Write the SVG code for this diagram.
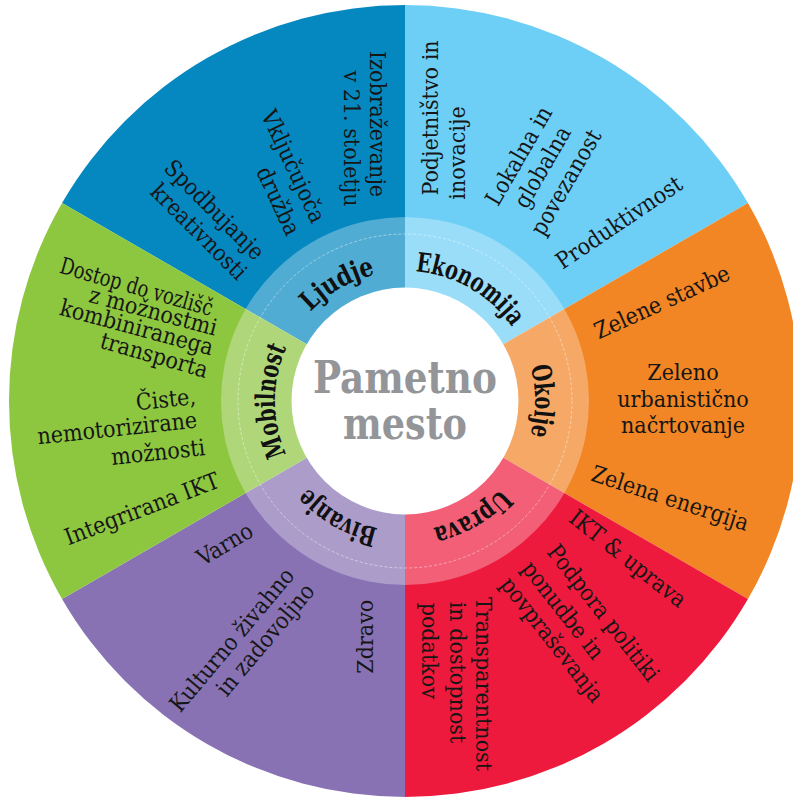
<svg xmlns="http://www.w3.org/2000/svg" xmlns:xlink="http://www.w3.org/1999/xlink" width="793" height="798" viewBox="0 0 793 798">
  <style>
    .t { font-family: "DejaVu Serif Condensed", "DejaVu Serif", serif; font-stretch: condensed; font-size: 23px; fill: #161616; text-anchor: middle; }
    .lab { font-family: "DejaVu Serif Condensed", "DejaVu Serif", serif; font-stretch: condensed; font-weight: bold; font-size: 27px; fill: #111; text-anchor: middle; }
    .hub { font-family: "DejaVu Serif Condensed", "DejaVu Serif", serif; font-stretch: condensed; font-weight: bold; font-size: 44px; fill: #939598; text-anchor: middle; }
  </style>
  <defs>
    <!-- clockwise baseline circle for the category names (starts at 12 o'clock) -->
    <path id="labelArc" d="M405,271 A130,130 0 1,1 405,531 A130,130 0 1,1 405,271"/>
  </defs>

  <!-- six sectors of the wheel -->
  <g id="ljudje">
    <path d="M405,401 L62.05,203 A396,396 0 0,1 405,5 Z" fill="#0588c0"/>
  </g>
  <g id="ekonomija">
    <path d="M405,401 L405,5 A396,396 0 0,1 747.95,203 Z" fill="#6dcff6"/>
  </g>
  <g id="okolje">
    <path d="M405,401 L747.95,203 A396,396 0 0,1 747.95,599 Z" fill="#f28524"/>
  </g>
  <g id="uprava">
    <path d="M405,401 L747.95,599 A396,396 0 0,1 405,797 Z" fill="#ed1a3d"/>
  </g>
  <g id="bivanje">
    <path d="M405,401 L405,797 A396,396 0 0,1 62.05,599 Z" fill="#8872b3"/>
  </g>
  <g id="mobilnost">
    <path d="M405,401 L62.05,599 A396,396 0 0,1 62.05,203 Z" fill="#8dc63f"/>
  </g>

  <!-- inner tinted ring, dashed guide and white hub -->
  <g id="ring">
    <circle cx="405" cy="401" r="184" fill="#fff" fill-opacity="0.3"/>
    <circle cx="405" cy="401" r="167" fill="none" stroke="#fff" stroke-opacity="0.55" stroke-width="0.8" stroke-dasharray="3 2"/>
    <circle cx="405" cy="401" r="113.5" fill="#fff"/>
  </g>

  <g id="hub">
    <text class="hub" x="405" y="393" textLength="184" lengthAdjust="spacingAndGlyphs">Pametno</text>
    <text class="hub" x="405" y="439" textLength="124" lengthAdjust="spacingAndGlyphs">mesto</text>
  </g>

  <!-- category names on the ring -->
  <g id="labels">
    <text class="lab"><textPath xlink:href="#labelArc" href="#labelArc" startOffset="68.07" textLength="115" lengthAdjust="spacingAndGlyphs">Ekonomija</textPath></text>
    <text class="lab"><textPath xlink:href="#labelArc" href="#labelArc" startOffset="204.2" textLength="70" lengthAdjust="spacingAndGlyphs">Okolje</textPath></text>
    <text class="lab"><textPath xlink:href="#labelArc" href="#labelArc" startOffset="340.3" textLength="80" lengthAdjust="spacingAndGlyphs">Uprava</textPath></text>
    <text class="lab"><textPath xlink:href="#labelArc" href="#labelArc" startOffset="476.5" textLength="82" lengthAdjust="spacingAndGlyphs">Bivanje</textPath></text>
    <text class="lab"><textPath xlink:href="#labelArc" href="#labelArc" startOffset="612.6" textLength="110" lengthAdjust="spacingAndGlyphs">Mobilnost</textPath></text>
    <text class="lab"><textPath xlink:href="#labelArc" href="#labelArc" startOffset="748.7" textLength="76" lengthAdjust="spacingAndGlyphs">Ljudje</textPath></text>
  </g>

  <!-- Ljudje items -->
  <g id="ljudje-items">
    <text class="t" transform="translate(376,124) rotate(90)" y="6">Izobraževanje</text>
    <text class="t" transform="translate(349.5,138.5) rotate(90)" y="6">v 21. stoletju</text>
    <text class="t" transform="translate(291.7,167) rotate(65)" y="6">Vključujoča</text>
    <text class="t" transform="translate(276.7,201.7) rotate(65)" y="6">družba</text>
    <text class="t" transform="translate(213,211) rotate(45)" y="6">Spodbujanje</text>
    <text class="t" transform="translate(197.5,233) rotate(45)" y="6">kreativnosti</text>
  </g>

  <!-- Ekonomija items -->
  <g id="ekonomija-items">
    <text class="t" transform="translate(432,118) rotate(-90)" y="6">Podjetništvo in</text>
    <text class="t" transform="translate(459,153) rotate(-90)" y="6">inovacije</text>
    <text class="t" transform="translate(520.3,156.7) rotate(-60)" y="6">Lokalna in</text>
    <text class="t" transform="translate(544,168) rotate(-60)" y="6">globalna</text>
    <text class="t" transform="translate(567.5,183.3) rotate(-60)" y="6">povezanost</text>
    <text class="t" transform="translate(620,224) rotate(-34)" y="6">Produktivnost</text>
  </g>

  <!-- Okolje items -->
  <g id="okolje-items">
    <text class="t" transform="translate(662.8,303.8) rotate(-24.5)" y="6">Zelene stavbe</text>
    <text class="t" x="683" y="380">Zeleno</text>
    <text class="t" x="683" y="406.7">urbanistično</text>
    <text class="t" x="683" y="433">načrtovanje</text>
    <text class="t" transform="translate(669.5,500) rotate(18)" y="6">Zelena energija</text>
  </g>

  <!-- Uprava items -->
  <g id="uprava-items">
    <text class="t" transform="translate(626.7,560) rotate(38.4)" y="6">IKT &amp; uprava</text>
    <text class="t" transform="translate(602,614) rotate(52)" y="6">Podpora politiki</text>
    <text class="t" transform="translate(561.7,611.3) rotate(52)" y="6">ponudbe in</text>
    <text class="t" transform="translate(550.8,640.8) rotate(52)" y="6">povpraševanja</text>
    <text class="t" transform="translate(482.3,684) rotate(90)" y="6">Transparentnost</text>
    <text class="t" transform="translate(455.7,672.5) rotate(90)" y="6">in dostopnost</text>
    <text class="t" transform="translate(428,650.8) rotate(90)" y="6">podatkov</text>
  </g>

  <!-- Bivanje items -->
  <g id="bivanje-items">
    <text class="t" transform="translate(225.8,545.8) rotate(-31)" y="6">Varno</text>
    <text class="t" transform="translate(233.3,641) rotate(-50)" y="6">Kulturno živahno</text>
    <text class="t" transform="translate(266.7,640.8) rotate(-50)" y="6">in zadovoljno</text>
    <text class="t" transform="translate(366.7,636.7) rotate(-90)" y="6">Zdravo</text>
  </g>

  <!-- Mobilnost items -->
  <g id="mobilnost-items">
    <text class="t" transform="translate(136,288.5) rotate(16)" y="6" textLength="158" lengthAdjust="spacingAndGlyphs">Dostop do vozlišč</text>
    <text class="t" transform="translate(152.8,313) rotate(15)" y="6">z možnostmi</text>
    <text class="t" transform="translate(136.2,329.2) rotate(15)" y="6">kombiniranega</text>
    <text class="t" transform="translate(153.7,357) rotate(16)" y="6">transporta</text>
    <text class="t" transform="translate(166,401.2) rotate(-6)" y="6">Čiste,</text>
    <text class="t" transform="translate(117.3,430) rotate(-6)" y="6">nemotorizirane</text>
    <text class="t" transform="translate(158.3,454) rotate(-6)" y="6">možnosti</text>
    <text class="t" transform="translate(142.5,510.5) rotate(-21)" y="6">Integrirana IKT</text>
  </g>
</svg>
